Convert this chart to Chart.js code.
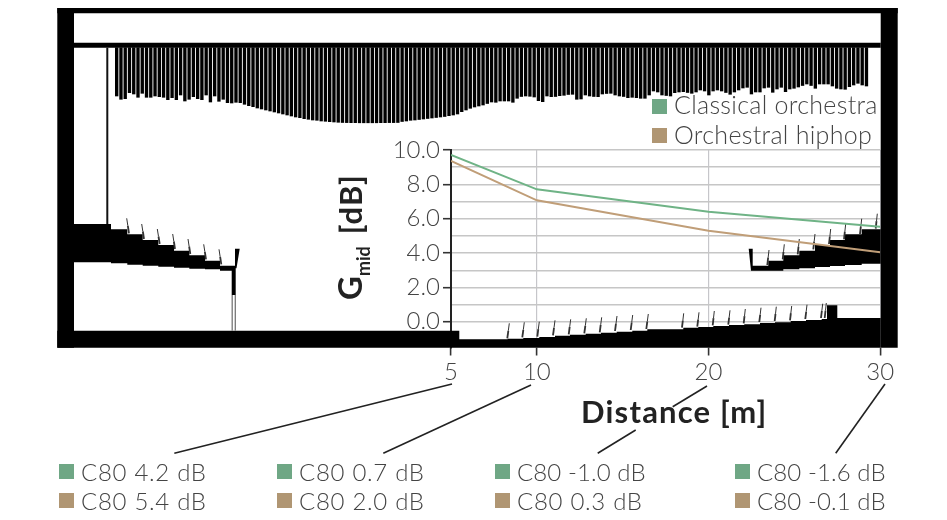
<!DOCTYPE html>
<html>
<head>
<meta charset="utf-8">
<title>Gmid over distance</title>
<script src="https://cdn.jsdelivr.net/npm/chart.js@4"></script>
<style>
  html, body { margin: 0; padding: 0; background: #fff; }
  canvas { display: block; }
</style>
</head>
<body>
<canvas id="chart1" width="947" height="520"></canvas>
<script>
// Measured data
const distances = [5, 10, 20, 30];
const classicalGmid = [9.71, 7.71, 6.41, 5.53];
const hiphopGmid = [9.36, 7.07, 5.30, 4.04];
const xTicks = [5, 10, 20, 30];
const yTicks = [0, 1, 2, 3, 4, 5, 6, 7, 8, 9, 10];
const classicalC80 = ["C80 4.2 dB", "C80 0.7 dB", "C80 -1.0 dB", "C80 -1.6 dB"];
const hiphopC80 = ["C80 5.4 dB", "C80 2.0 dB", "C80 0.3 dB", "C80 -0.1 dB"];

// Hall section drawing, in hall units (hallX / hallY scales, 1 unit = 1 px)
const diffuserEnds = [
  96, 99.3, 98.7, 92.7, 94, 97.3, 93.3, 97.3, 97.3, 96, 96.7, 97.3, 99.7, 97.7, 99.7, 95, 101, 99.3, 96.7, 98.7,
  99.7, 95, 102, 96, 101.3, 99.3, 102.7, 103, 102.3, 102.7, 104.3, 105.7, 106.7, 108, 109, 110, 111, 112, 113, 114,
  115, 116, 117, 117.7, 118.7, 119.3, 120, 120.3, 121, 121.3, 121.7, 122, 122.3, 122.5, 122.6, 122.7, 122.7, 122.8, 122.8, 122.8,
  122.8, 122.8, 122.7, 122.7, 122.6, 122.6, 122.5, 121.5, 121, 120.3, 120, 119.5, 119, 118.5, 118, 117.5, 117, 116.5, 115.7, 115,
  114, 111.7, 110, 108.3, 107, 106, 105, 103.5, 102, 102.3, 101, 101, 101, 102.3, 98.3, 96.5, 96, 96.3, 97, 100.7,
  101.7, 96, 96.7, 96.5, 95.7, 95.3, 94.5, 94.3, 99.3, 99, 95, 96, 96.5, 96.7, 94, 93.5, 93.3, 95, 96, 96.5,
  97.7, 97.3, 97.7, 98.3, 98.3, 95, 91, 92, 95, 95.5, 96, 92.7, 92, 91.7, 92.5, 93.3, 92, 90, 91, 95,
  91, 90, 91, 92.5, 94.3, 92, 90, 88, 87.3, 94, 92, 92, 88, 87.3, 92.3, 89, 87.3, 91.7, 89, 88.3,
  87, 85.5, 84, 85.5, 88.3, 84, 84, 84, 86, 88.3, 89, 89.3, 86.7, 85, 83.3, 85, 86
];
const hallSolids = [
  // ceiling slab
  [[74, 42.7], [880.7, 42.7], [880.7, 47.7], [74, 47.7]],
  // side walls
  [[57.3, 8], [74, 8], [74, 347.7], [57.3, 347.7]],
  [[880.7, 8], [897.7, 8], [897.7, 347.7], [880.7, 347.7]],
  // roof
  [[57.3, 8], [897.7, 8], [897.7, 13.3], [57.3, 13.3]],
  // floor
  [[57.3, 330.7], [459.3, 330.7], [459.3, 339.3], [507.7, 339.3], [507.7, 338.7], [523.3, 338.7], [523.3, 338], [539.3, 338], [539.3, 337],
   [555, 337], [555, 335.7], [570, 335.7], [570, 334.7], [585.7, 334.7], [585.7, 333.7], [601, 333.7], [601, 332.7], [616.7, 332.7],
   [616.7, 331.7], [632.3, 331.7], [632.3, 330.7], [647.3, 330.7], [647.3, 329.3], [683.3, 329.3], [683.3, 327.7], [698.3, 327.7],
   [698.3, 327], [713.3, 327], [713.3, 326], [729, 326], [729, 325], [744.3, 325], [744.3, 324.3], [760, 324.3], [760, 323], [775, 323],
   [775, 322.3], [790.7, 322.3], [790.7, 321], [806, 321], [806, 320], [821.7, 320], [821.7, 319], [827, 319], [827, 305.3], [837.3, 305.3],
   [837.3, 318], [880.7, 318], [880.7, 347.7], [57.3, 347.7]],
  // left balcony
  [[74, 224], [111, 224], [111, 229.3], [127.3, 229.3], [127.3, 234.3], [142.7, 234.3], [142.7, 240], [158.3, 240], [158.3, 245], [174, 245],
   [174, 250.7], [189.3, 250.7], [189.3, 255.3], [205, 255.3], [205, 260.7], [220, 260.7], [220, 265.7], [235, 265.7], [235, 248.7], [239.7, 248.7],
   [236.5, 268.3], [235.7, 268.3], [235.7, 295], [231.7, 295], [231.7, 270.7], [220, 270.7], [220, 269.3], [205, 269.3], [205, 268.7], [189.3, 268.7],
   [189.3, 267.7], [174, 267.7], [174, 266.7], [158.3, 266.7], [158.3, 265.7], [142.7, 265.7], [142.7, 264.7], [127.3, 264.7], [127.3, 263.3],
   [111, 263.3], [111, 262.3], [74, 262.3]],
  // right balcony
  [[748.7, 248.7], [752.7, 248.7], [752.7, 265.7], [768.3, 265.7], [768.3, 260.7], [783.3, 260.7], [783.3, 255.3], [799.3, 255.3], [799.3, 250.7],
   [815, 250.7], [815, 245], [830, 245], [830, 240], [845, 240], [845, 234.3], [861.7, 234.3], [861.7, 229.3], [880.7, 229.3], [880.7, 263.7],
   [861.7, 263.7], [861.7, 265], [845, 265], [845, 266], [830, 266], [830, 267], [815, 267], [815, 268.3], [799.3, 268.3], [799.3, 269.3],
   [783.3, 269.3], [783.3, 270.7], [751, 270.7]]
];
const hallLines = [
  { width: 2, color: "#111", pts: [[107.3, 47.7], [107.3, 224]] },
  { width: 1.3, color: "#777", pts: [[232.2, 295], [232.2, 330.7]] },
  { width: 1.3, color: "#777", pts: [[235.3, 295], [235.3, 330.7]] }
];
// top point and foot point of every seat back
const seatBacks = [
  [126.7, 218.3, 129, 233.3], [141.7, 224, 144, 239], [157.3, 229, 159.7, 244], [172.7, 234, 175, 249], [188, 239, 190.3, 254], [203.7, 244.3, 206, 259.3], [219, 249.3, 221.3, 264.3],
  [769, 250, 767.3, 265], [784.3, 244.3, 782.7, 259.3], [799.3, 239, 797.7, 254.3], [815, 234, 813.3, 249.3], [830.7, 229, 829, 244], [845.7, 224, 844, 239.3], [861.7, 218.7, 860, 234], [877.3, 213.7, 875.7, 228.7],
  [509.3, 323.3, 507.3, 338.3], [524.3, 322.3, 522.3, 337.3], [539.3, 321.7, 537.3, 336.7], [555, 320.3, 553, 335.3], [570.7, 319.3, 568.7, 334.3], [586.3, 318.3, 584.3, 333.3], [601.7, 317.3, 599.7, 332.3], [617, 316, 615, 331], [632.7, 315, 630.7, 330], [648.3, 314, 646.3, 329],
  [683.7, 313.3, 682, 327.7], [699, 312.3, 697.3, 326.7], [714.3, 311, 712.7, 325.3], [730, 310.3, 728.3, 324.7], [745.3, 309, 743.7, 323.3], [761, 307.7, 759.3, 322], [776.3, 306.7, 774.7, 321], [791.7, 306, 790, 320.3], [807, 304.7, 805.3, 319], [822.7, 303.7, 821, 318], [826.3, 303, 824.7, 318]
];
const leaderLines = [
  [[452, 384], [174.3, 453.3]],
  [[531, 385], [383.3, 453.3]],
  [[707, 386], [672.7, 406.7]],
  [[635.7, 430], [597.7, 453.3]],
  [[885, 384], [835.7, 453.3]]
];

const fontLight = "Lato, sans-serif";
const green = "#6fa785";
const tan = "#b09673";
const ink = "#444";

const hallPlugin = {
  id: "hall",
  beforeDatasetsDraw(chart) {
    const ctx = chart.ctx;
    const hx = chart.scales.hallX;
    const hy = chart.scales.hallY;
    ctx.save();
    ctx.fillStyle = "#000";
    hallSolids.forEach(function(shape) {
      ctx.beginPath();
      shape.forEach(function(p, i) {
        const px = hx.getPixelForValue(p[0]);
        const py = hy.getPixelForValue(p[1]);
        if (i === 0) ctx.moveTo(px, py); else ctx.lineTo(px, py);
      });
      ctx.closePath();
      ctx.fill();
    });
    hallLines.forEach(function(l) {
      ctx.strokeStyle = l.color;
      ctx.lineWidth = l.width;
      ctx.beginPath();
      ctx.moveTo(hx.getPixelForValue(l.pts[0][0]), hy.getPixelForValue(l.pts[0][1]));
      ctx.lineTo(hx.getPixelForValue(l.pts[1][0]), hy.getPixelForValue(l.pts[1][1]));
      ctx.stroke();
    });
    // seat backs: thin top half, heavier foot
    seatBacks.forEach(function(s) {
      const x1 = hx.getPixelForValue(s[0]), y1 = hy.getPixelForValue(s[1]);
      const x2 = hx.getPixelForValue(s[2]), y2 = hy.getPixelForValue(s[3]);
      const mx = (x1 + x2) / 2, my = (y1 + y2) / 2;
      ctx.strokeStyle = "#333";
      ctx.lineWidth = 1;
      ctx.beginPath(); ctx.moveTo(x1, y1); ctx.lineTo(mx, my); ctx.stroke();
      ctx.lineWidth = 1.8;
      ctx.beginPath(); ctx.moveTo(mx, my); ctx.lineTo(x2, y2); ctx.stroke();
    });
    ctx.restore();
  },
  afterDraw(chart) {
    const ctx = chart.ctx;
    ctx.save();
    // leaders from the distance ticks down to the C80 values
    ctx.strokeStyle = "#222";
    ctx.lineWidth = 1.6;
    leaderLines.forEach(function(l) {
      ctx.beginPath();
      ctx.moveTo(l[0][0], l[0][1]);
      ctx.lineTo(l[1][0], l[1][1]);
      ctx.stroke();
    });
    // series key
    ctx.textBaseline = "alphabetic";
    ctx.textAlign = "left";
    ctx.fillStyle = green;
    ctx.fillRect(652, 99, 15, 15);
    ctx.fillStyle = tan;
    ctx.fillRect(652, 128, 15, 15);
    ctx.fillStyle = ink;
    ctx.font = "300 25px " + fontLight;
    ctx.letterSpacing = "0.3px";
    ctx.fillText("Classical orchestra", 674, 114);
    ctx.fillText("Orchestral hiphop", 674, 144);
    // C80 rows
    const colX = [59, 277, 495, 735];
    ctx.font = "300 24px " + fontLight;
    function spacingFor(txt) { return txt.indexOf("-") >= 0 ? "0.1px" : "0.7px"; }
    classicalC80.forEach(function(txt, i) {
      ctx.fillStyle = green;
      ctx.fillRect(colX[i], 464, 15, 15);
      ctx.fillStyle = tan;
      ctx.fillRect(colX[i], 493, 15, 15);
      ctx.fillStyle = ink;
      ctx.letterSpacing = spacingFor(txt);
      ctx.fillText(txt, colX[i] + 22, 481);
      ctx.letterSpacing = spacingFor(hiphopC80[i]);
      ctx.fillText(hiphopC80[i], colX[i] + 22, 510);
    });
    // axis titles
    ctx.fillStyle = "#222";
    ctx.font = "700 31px " + fontLight;
    ctx.letterSpacing = "1.2px";
    ctx.fillText("Distance [m]", 581, 423);
    ctx.translate(362, 300);
    ctx.rotate(-Math.PI / 2);
    ctx.font = "700 33px " + fontLight;
    ctx.letterSpacing = "0px";
    ctx.fillText("G", 0, 0);
    const gWidth = ctx.measureText("G").width;
    ctx.font = "700 18px " + fontLight;
    ctx.fillText("mid", gWidth, 8);
    const midWidth = ctx.measureText("mid").width;
    ctx.font = "700 31px " + fontLight;
    ctx.letterSpacing = "1px";
    ctx.fillText("[dB]", gWidth + midWidth + 12, 0);
    ctx.restore();
  }
};

function fixWidth(scale) {
  scale.width = 451;
  scale.paddingTop = 0;
  scale.paddingBottom = 0;
}
function fixHeight(scale) {
  scale.height = 172.5;
  scale.paddingLeft = 0;
  scale.paddingRight = 0;
}

new Chart(document.getElementById("chart1").getContext("2d"), {
  type: "line",
  plugins: [hallPlugin],
  data: {
    datasets: [{
      label: "Classical orchestra",
      data: distances.map(function(d, i) { return { x: d, y: classicalGmid[i] }; }),
      borderColor: "#6fb386",
      borderWidth: 2,
      pointRadius: 0,
      fill: false,
      tension: 0
    }, {
      label: "Orchestral hiphop",
      data: distances.map(function(d, i) { return { x: d, y: hiphopGmid[i] }; }),
      borderColor: "#c09e78",
      borderWidth: 2,
      pointRadius: 0,
      fill: false,
      tension: 0
    }, {
      type: "bar",
      label: "Ceiling diffusers",
      xAxisID: "hallX",
      yAxisID: "hallY",
      data: diffuserEnds.map(function(end, i) { return { x: 116.7 + i * 4.26, y: [47.7, end] }; }),
      backgroundColor: "#000",
      barThickness: 2.7,
      grouped: false,
      clip: false
    }]
  },
  options: {
    responsive: false,
    animation: false,
    layout: { padding: { left: 0, top: 150, right: 66.8, bottom: 0 } },
    plugins: { legend: { display: false }, tooltip: { enabled: false } },
    scales: {
      x: {
        type: "linear",
        position: "bottom",
        min: 5,
        max: 30,
        afterFit: fixHeight,
        afterBuildTicks: function(scale) { scale.ticks = xTicks.map(function(v) { return { value: v }; }); },
        border: { display: false },
        grid: { color: "#c6c6ca", lineWidth: 1.2, tickColor: "#333", tickLength: 8, tickWidth: 1.6 },
        ticks: { color: ink, padding: 2, maxRotation: 0, font: { family: fontLight, size: 24, weight: 300 } }
      },
      y: {
        type: "linear",
        position: "left",
        min: -1.5,
        max: 10,
        afterFit: fixWidth,
        afterBuildTicks: function(scale) { scale.ticks = yTicks.map(function(v) { return { value: v }; }); },
        border: { color: "#222", width: 2 },
        grid: {
          color: "#c6c6c6",
          lineWidth: 1.4,
          tickLength: 8,
          tickWidth: 1.6,
          tickColor: function(c) { return c.tick && c.tick.value % 2 === 0 ? "#333" : "rgba(0,0,0,0)"; }
        },
        ticks: {
          color: ink,
          padding: 3,
          autoSkip: false,
          font: { family: fontLight, size: 24, weight: 300 },
          callback: function(v) { return v % 2 === 0 ? v.toFixed(1) : ""; }
        }
      },
      hallX: { type: "linear", display: false, offset: false, min: 451, max: 880.2, grid: { offset: false } },
      hallY: { type: "linear", display: false, reverse: true, min: 150, max: 347.5 }
    }
  }
});
</script>
</body>
</html>
